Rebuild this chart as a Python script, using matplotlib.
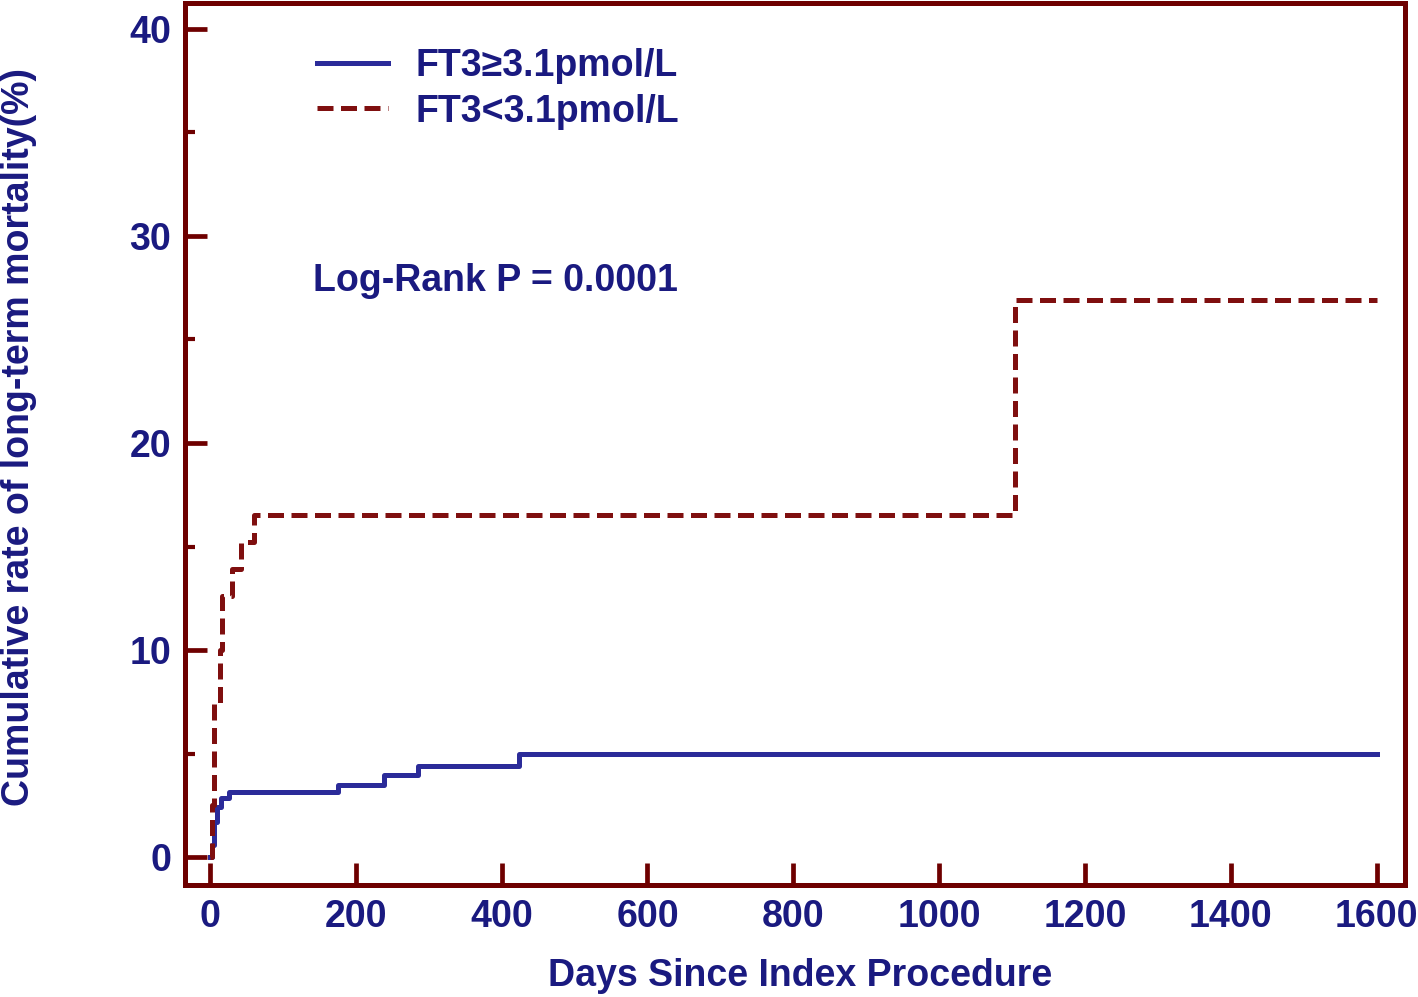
import numpy as np
import matplotlib.pyplot as plt
from matplotlib.ticker import MultipleLocator

plt.rcParams["font.family"] = ["Liberation Sans", "DejaVu Sans"]
plt.rcParams["font.weight"] = "bold"

# Kaplan-Meier style cumulative mortality
high_days = [0, 3, 6, 9, 15, 26, 175, 239, 285, 424, 1600]
high_rate = [0, 0.6, 1.7, 2.4, 2.85, 3.15, 3.5, 3.95, 4.4, 5.0, 5.0]

low_days = [0, 2, 5, 13, 16, 30, 43, 60, 1104, 1600]
low_rate = [0, 2.5, 7.4, 10.0, 12.6, 13.9, 15.2, 16.5, 26.9, 26.9]

labels = ["FT3\u22653.1pmol/L", "FT3<3.1pmol/L"]
x_ticks = [0, 200, 400, 600, 800, 1000, 1200, 1400, 1600]
y_ticks = [0, 10, 20, 30, 40]

txt = "#1a1a80"
frame = "#6e0000"
blue = "#2b2b99"
red = "#7f0f0f"
fs = 27

fig = plt.figure(figsize=(14.18, 9.97), dpi=100)
ax = fig.add_axes([0.1305, 0.1123, 0.8603, 0.8847])

ax.step(high_days, high_rate, where="post", color=blue, lw=3.6, label=labels[0])
ax.step(low_days, low_rate, where="post", color=red, lw=3.6,
        dashes=(3.2, 1.5), label=labels[1])

ax.set_xlim(-34.3, 1639)
ax.set_ylim(-1.35, 41.25)
ax.set_xticks(x_ticks)
ax.set_yticks(y_ticks)
ax.yaxis.set_minor_locator(MultipleLocator(5))

for s in ax.spines.values():
    s.set_color(frame)
    s.set_linewidth(3.6)

ax.tick_params(axis="both", which="major", direction="in", length=16, width=3.4,
               color=frame, labelcolor=txt, labelsize=fs, pad=10)
ax.tick_params(axis="y", which="minor", direction="in", length=7.5, width=3.0, color=frame)
ax.tick_params(axis="x", which="minor", bottom=False)

ax.set_xlabel("Days Since Index Procedure", color=txt, fontsize=fs, fontweight="bold")
ax.set_ylabel("Cumulative rate of long-term mortality(%)", color=txt, fontsize=fs,
              fontweight="bold")
ax.xaxis.set_label_coords(0.5045, -0.0828)
ax.yaxis.set_label_coords(-0.121, 0.5085)

leg = ax.legend(loc="upper left", bbox_to_anchor=(0.0803, 0.987), frameon=False,
                fontsize=fs, handlelength=1.9, handletextpad=0.72, labelspacing=0.25)
for t in leg.get_texts():
    t.set_color(txt)
    t.set_fontweight("bold")

ax.text((313 - 210) / 0.729375, 27.8, "Log-Rank P = 0.0001", color=txt, fontsize=fs,
        fontweight="bold", va="center", ha="left")

fig.savefig("out.png", dpi=100)
